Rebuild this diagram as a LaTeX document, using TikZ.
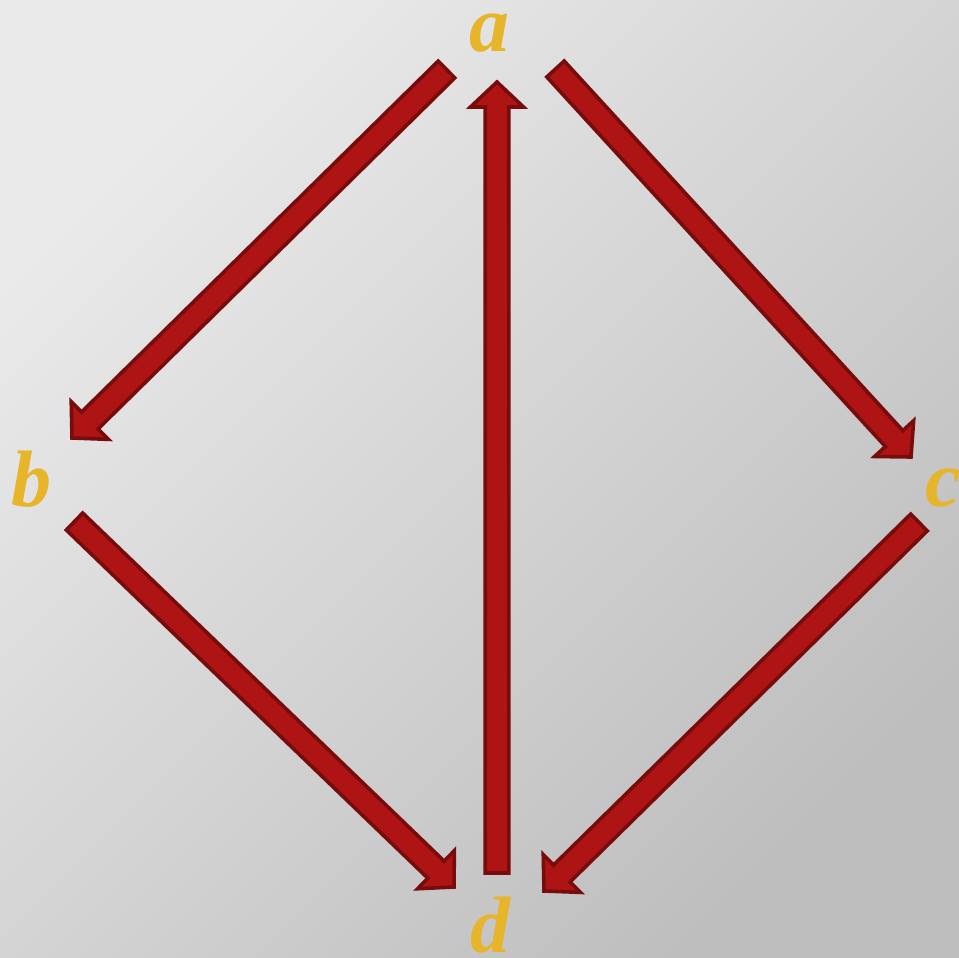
\documentclass[tikz,border=0pt]{standalone}
\usepackage{fontspec}
\setmainfont{Liberation Serif}
\usepackage{tikz}
\usetikzlibrary{calc}
\definecolor{LabelGold}{RGB}{230,181,42}
\definecolor{ArrowRed}{RGB}{174,20,20}
\definecolor{ArrowDark}{RGB}{120,12,12}
\definecolor{BgLight}{RGB}{234,234,234}
\definecolor{BgDark}{RGB}{190,190,190}

% block arrow from #1 (tail) to #2 (tip)
\newcommand{\blockarrow}[2]{%
  \coordinate (tail) at (#1);
  \coordinate (tip) at (#2);
  \coordinate (base) at ($(tip)!25pt!(tail)$);
  \draw[arrowbody] ($(tail)!11.8pt!90:(tip)$) -- ($(base)!11.8pt!-90:(tail)$)
    -- ($(base)!26.5pt!-90:(tail)$) -- (tip) -- ($(base)!26.5pt!90:(tail)$)
    -- ($(base)!11.8pt!90:(tail)$) -- ($(tail)!11.8pt!-90:(tip)$) -- cycle;
}

\begin{document}
\begin{tikzpicture}[x=1pt,y=-1pt,
    vertex/.style={text=LabelGold,inner sep=0pt,font=\bfseries\itshape\fontsize{80}{90}\selectfont},
    arrowbody/.style={fill=ArrowRed,draw=ArrowDark,line width=3.6pt,line join=miter}]
    \useasboundingbox (0,0) rectangle (959,958);
    \shade[top color=BgLight,bottom color=BgDark,shading angle=45] (0,0) rectangle (959,958);

    \node[vertex] (a) at (489,33) {a};
    \node[vertex] (b) at (31,479) {b};
    \node[vertex] (c) at (943,488) {c};
    \node[vertex] (d) at (490,925) {d};

    \blockarrow{[shift={(-42.5,36.5)}]a.center}{[shift={(41,-41)}]b.center}
    \blockarrow{[shift={(66.5,36)}]a.center}{[shift={(-32,-31)}]c.center}
    \blockarrow{[shift={(43.5,42.5)}]b.center}{[shift={(-36,-38)}]d.center}
    \blockarrow{[shift={(-24,34.5)}]c.center}{[shift={(54,-34)}]d.center}
    \blockarrow{[shift={(7,-52)}]d.center}{[shift={(8,49)}]a.center}
\end{tikzpicture}
\end{document}
